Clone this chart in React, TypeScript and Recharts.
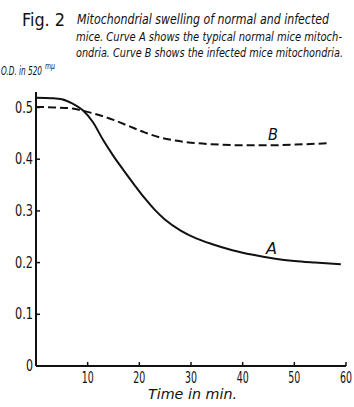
import { LineChart, Line, XAxis, YAxis } from 'recharts'

// values (O.D. at 520 mμ vs minutes)
const timeA = [0, 3, 5, 7, 9, 11, 13, 15, 17, 19, 21, 23, 25, 28, 31, 34, 38, 42, 46, 50, 54, 59]
const curveA = [0.519, 0.518, 0.516, 0.508, 0.495, 0.472, 0.437, 0.406, 0.378, 0.351, 0.325, 0.302, 0.283, 0.262, 0.247, 0.236, 0.224, 0.215, 0.208, 0.203, 0.2, 0.197]
const timeB = [0, 4, 7, 9, 12, 15, 18, 21, 24, 27, 30, 34, 40, 46, 52, 57]
const curveB = [0.501, 0.5, 0.498, 0.494, 0.486, 0.476, 0.464, 0.452, 0.442, 0.436, 0.432, 0.429, 0.427, 0.427, 0.429, 0.431]

const xTicks = [10, 20, 30, 40, 50, 60]
const yTicks = [0, 0.1, 0.2, 0.3, 0.4, 0.5]
const yTickLabels = ['0', '0.1', '0.2', '0.3', '0.4', '0.5']

const dataA = timeA.map((t, i) => ({ t, v: curveA[i] }))
const dataB = timeB.map((t, i) => ({ t, v: curveB[i] }))

const FONT = "'DejaVu Sans Condensed', 'DejaVu Sans', sans-serif"
const INK = '#111'

function XTick({ x, y, payload }: any) {
  return (
    <g>
      <line x1={x} x2={x} y1={y} y2={y - 4} stroke={INK} strokeWidth={1.5} />
      <text x={x} y={y + 17} textAnchor="middle" fontFamily={FONT} fontSize={16} fill={INK}
        textLength={12} lengthAdjust="spacingAndGlyphs">
        {payload.value}
      </text>
    </g>
  )
}

function YTick({ x, y, payload, index }: any) {
  const label = yTickLabels[index] ?? String(payload.value)
  const w = label.length === 1 ? 7 : 18
  return (
    <g>
      {payload.value !== 0 && <line x1={x} x2={x + 4} y1={y} y2={y} stroke={INK} strokeWidth={1.5} />}
      <text x={x - 3} y={y + 5} textAnchor="end" fontFamily={FONT} fontSize={16} fill={INK}
        textLength={w} lengthAdjust="spacingAndGlyphs">
        {label}
      </text>
    </g>
  )
}

function Caption() {
  const it = { fontFamily: FONT, fontStyle: 'italic', fill: INK } as const
  return (
    <svg width={354} height={407} style={{ position: 'absolute', left: 0, top: 0, pointerEvents: 'none' }}>
      <text x={22} y={26} fontFamily={FONT} fontSize={18} fill={INK} textLength={43} lengthAdjust="spacingAndGlyphs">Fig. 2</text>
      <text x={77} y={24} {...it} fontSize={14} textLength={252} lengthAdjust="spacingAndGlyphs">
        Mitochondrial swelling of normal and infected
      </text>
      <text x={76} y={41} {...it} fontSize={13} textLength={266} lengthAdjust="spacingAndGlyphs">
        mice. Curve A shows the typical normal mice mitoch-
      </text>
      <text x={76} y={57} {...it} fontSize={13} textLength={267} lengthAdjust="spacingAndGlyphs">
        ondria. Curve B shows the infected mice mitochondria.
      </text>
      <text x={1} y={75} {...it} fontSize={13} textLength={41} lengthAdjust="spacingAndGlyphs">O.D. in 520</text>
      <text x={45} y={69} {...it} fontSize={8} textLength={10} lengthAdjust="spacingAndGlyphs">mμ</text>
      <text x={148} y={399} {...it} fontSize={14} textLength={89} lengthAdjust="spacingAndGlyphs">Time in min.</text>
      <text x={268} y={140} {...it} fontSize={16} textLength={10} lengthAdjust="spacingAndGlyphs">B</text>
      <text x={266} y={254} {...it} fontSize={16} textLength={11} lengthAdjust="spacingAndGlyphs">A</text>
    </svg>
  )
}

export default function App() {
  return (
    <div style={{ position: 'absolute', left: 0, top: 0, width: 354, height: 407, background: '#fff' }}>
      <LineChart width={354} height={407} margin={{ top: 92, right: 8, left: 0, bottom: 0 }}>
        <XAxis
          type="number"
          dataKey="t"
          domain={[0, 60]}
          ticks={xTicks}
          height={41}
          tickSize={0}
          tickMargin={0}
          tickLine={false}
          tick={<XTick />}
          axisLine={{ stroke: INK, strokeWidth: 2 }}
          allowDataOverflow
        />
        <YAxis
          type="number"
          domain={[0, 0.53]}
          ticks={yTicks}
          width={36}
          tickSize={0}
          tickMargin={0}
          tickLine={false}
          tick={<YTick />}
          axisLine={{ stroke: INK, strokeWidth: 2 }}
          allowDataOverflow
        />
        <Line
          data={dataB}
          dataKey="v"
          type="monotone"
          stroke={INK}
          strokeWidth={2}
          strokeDasharray="8 4"
          dot={false}
          isAnimationActive={false}
        />
        <Line
          data={dataA}
          dataKey="v"
          type="monotone"
          stroke={INK}
          strokeWidth={2}
          dot={false}
          isAnimationActive={false}
        />
      </LineChart>
      <Caption />
    </div>
  )
}
